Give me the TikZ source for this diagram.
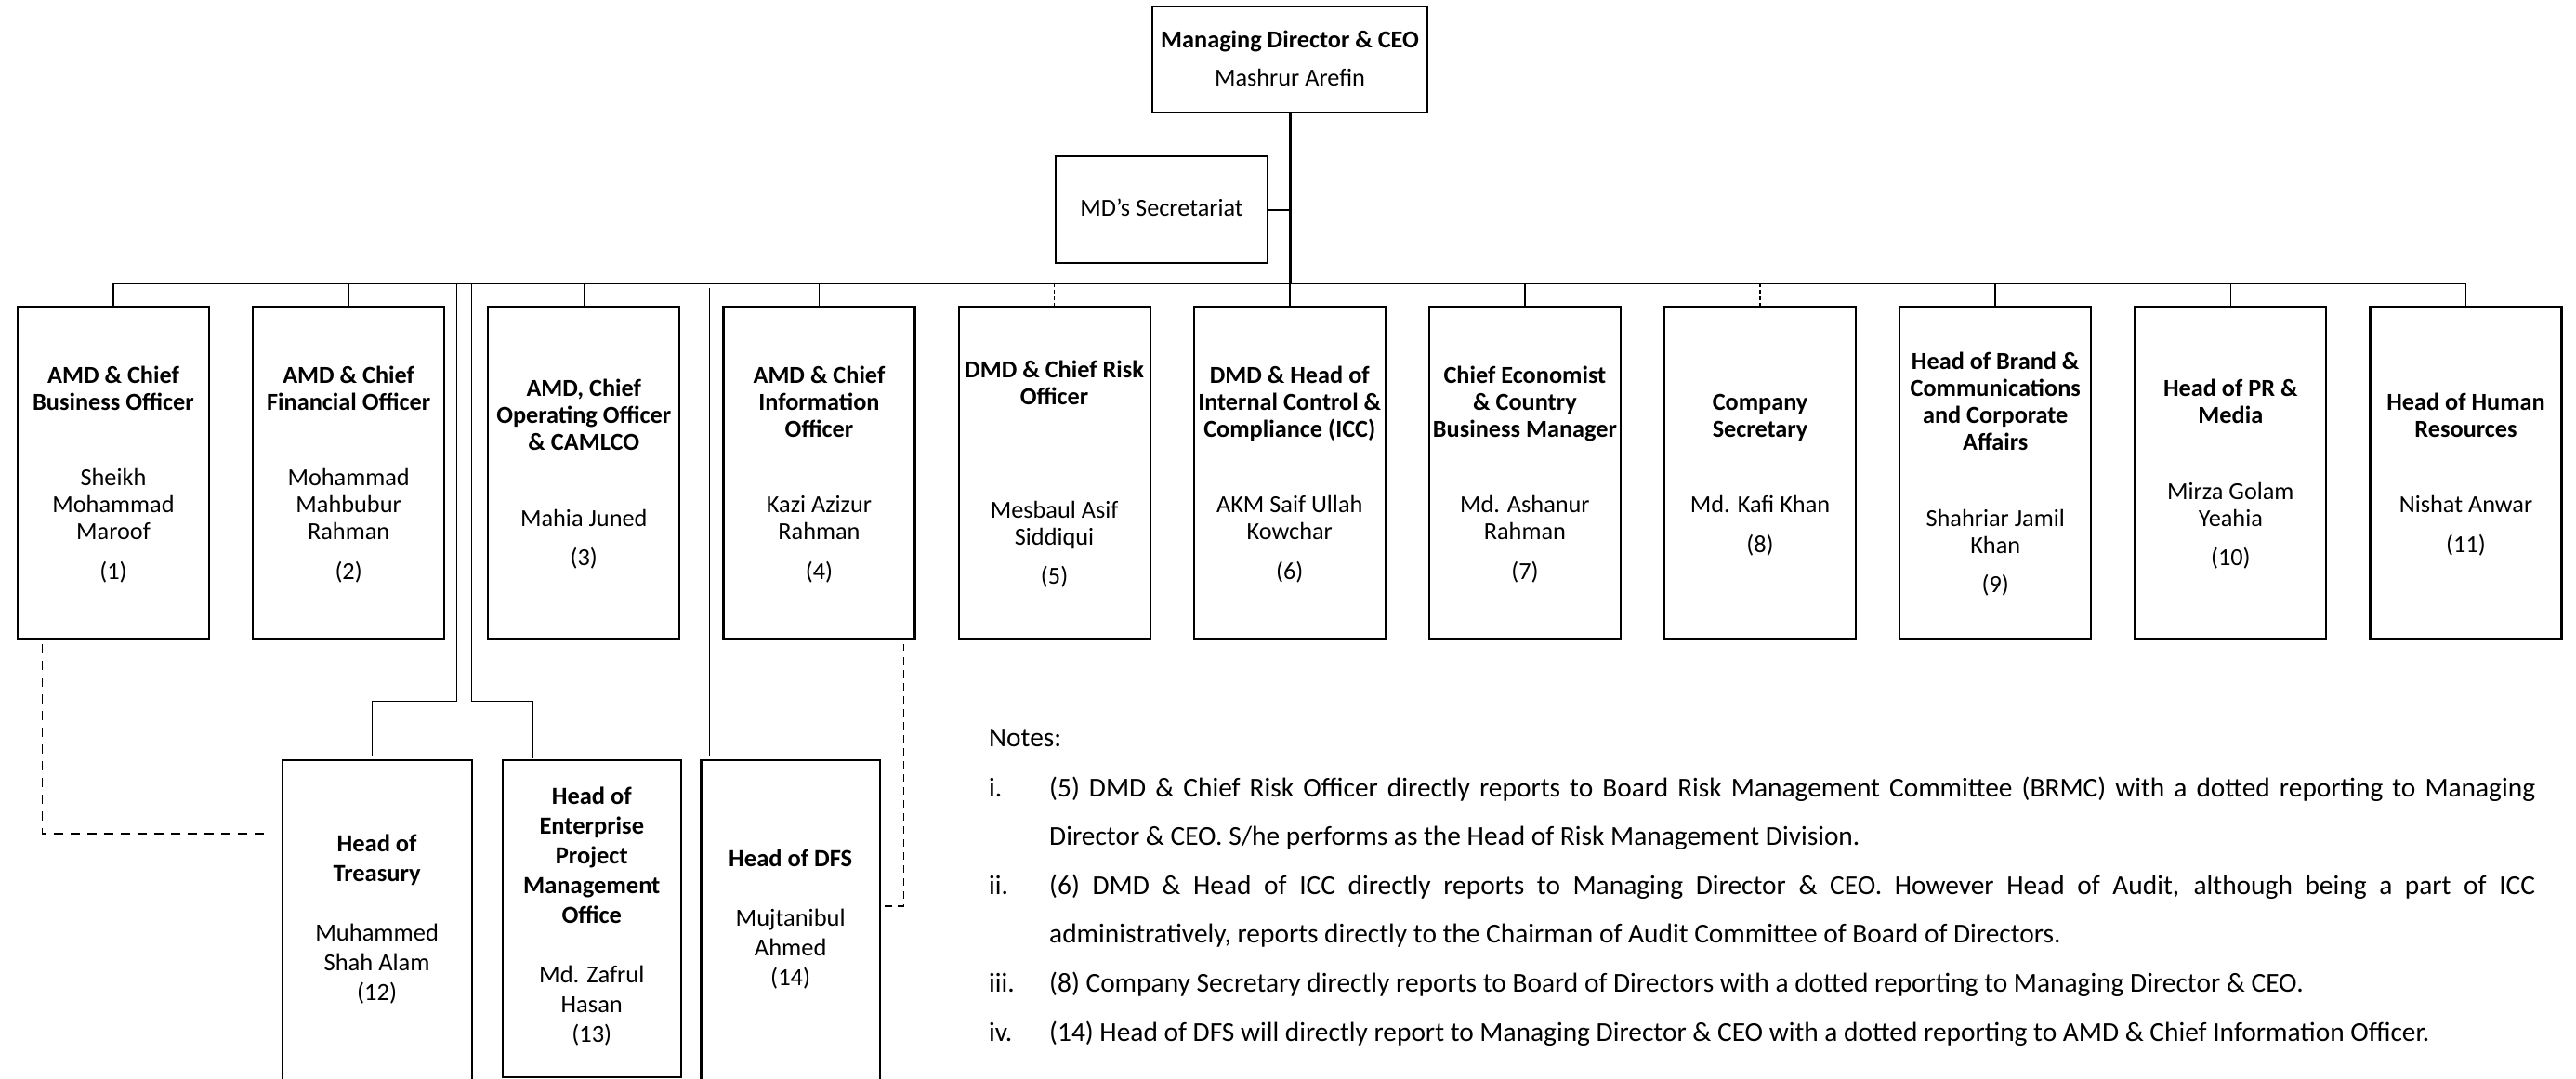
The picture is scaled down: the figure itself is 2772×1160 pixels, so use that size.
\documentclass[tikz,border=0pt]{standalone}
\usepackage{fontspec}
\setmainfont{Carlito}
\usetikzlibrary{calc}
\begin{document}
\begin{tikzpicture}[x=1pt,y=-1pt,
  box/.style={draw,line width=2.2pt,inner sep=0pt},
  lbl/.style={align=center,inner sep=0pt,font=\fontsize{26.3}{29}\selectfont},
  sublbl/.style={align=center,inner sep=0pt,font=\fontsize{26.5}{32}\selectfont},
  note/.style={anchor=base west,inner sep=0pt,font=\fontsize{29.4}{35}\selectfont},
  drop/.style={line width=1.6pt},
  busln/.style={line width=2.5pt},
  trunkln/.style={line width=3pt},
  thinln/.style={line width=1pt},
  dsh/.style={line width=1.8pt,dash pattern=on 10pt off 8pt},
  dshb/.style={line width=1.6pt,dash pattern=on 8pt off 6pt},
  dstub/.style={line width=1.6pt,dash pattern=on 4pt off 3pt}
]
\useasboundingbox (0,0) rectangle (2772,1160);
\clip (0,0) rectangle (2772,1160);

% top
\node[box,line width=2pt,minimum width=296pt,minimum height=114pt] (md) at (1388,63.7) {};
\node[lbl] (mdt) at ($(md.center)+(0,2.5)$) {\strut\textbf{Managing Director \& CEO}\\[12pt]\strut Mashrur Arefin};
\node[box,line width=2pt,minimum width=228pt,minimum height=115pt] (sec) at (1250,225.5) {};
\node[lbl] (sect) at ($(sec.center)+(0,1)$) {\strut MD’s Secretariat};

% first row boxes
\foreach \i in {1,...,11}
  \node[box,minimum width=206pt,minimum height=358pt] (b\i) at ({122+253.15*(\i-1)},509) {};

\node[lbl] (b1t) at ($(b1.center)+(0,2.7)$) {\strut\textbf{AMD \& Chief}\\\strut\textbf{Business Officer}\\[52.5pt]\strut Sheikh\\\strut Mohammad\\\strut Maroof\\[13.5pt]\strut (1)};
\node[lbl] (b2t) at ($(b2.center)+(0,2.7)$) {\strut\textbf{AMD \& Chief}\\\strut\textbf{Financial Officer}\\[52.5pt]\strut Mohammad\\\strut Mahbubur\\\strut Rahman\\[13.5pt]\strut (2)};
\node[lbl] (b3t) at ($(b3.center)+(0,2.7)$) {\strut\textbf{AMD, Chief}\\\strut\textbf{Operating Officer}\\\strut\textbf{\& CAMLCO}\\[52.5pt]\strut Mahia Juned\\[13.5pt]\strut (3)};
\node[lbl] (b4t) at ($(b4.center)+(0,2.7)$) {\strut\textbf{AMD \& Chief}\\\strut\textbf{Information}\\\strut\textbf{Officer}\\[52.5pt]\strut Kazi Azizur\\\strut Rahman\\[13.5pt]\strut (4)};
\node[lbl] (b5t) at ($(b5.center)+(0,2.7)$) {\strut\textbf{DMD \& Chief Risk}\\\strut\textbf{Officer}\\[93pt]\strut Mesbaul Asif\\\strut Siddiqui\\[13.5pt]\strut (5)};
\node[lbl] (b6t) at ($(b6.center)+(0,2.7)$) {\strut\textbf{DMD \& Head of}\\\strut\textbf{Internal Control \&}\\\strut\textbf{Compliance (ICC)}\\[52.5pt]\strut AKM Saif Ullah\\\strut Kowchar\\[13.5pt]\strut (6)};
\node[lbl] (b7t) at ($(b7.center)+(0,2.7)$) {\strut\textbf{Chief Economist}\\\strut\textbf{\& Country}\\\strut\textbf{Business Manager}\\[52.5pt]\strut Md. Ashanur\\\strut Rahman\\[13.5pt]\strut (7)};
\node[lbl] (b8t) at ($(b8.center)+(0,2.7)$) {\strut\textbf{Company}\\\strut\textbf{Secretary}\\[52.5pt]\strut Md. Kafi Khan\\[13.5pt]\strut (8)};
\node[lbl] (b9t) at ($(b9.center)+(0,2.7)$) {\strut\textbf{Head of Brand \&}\\\strut\textbf{Communications}\\\strut\textbf{and Corporate}\\\strut\textbf{Affairs}\\[52.5pt]\strut Shahriar Jamil\\\strut Khan\\[13.5pt]\strut (9)};
\node[lbl] (b10t) at ($(b10.center)+(0,2.7)$) {\strut\textbf{Head of PR \&}\\\strut\textbf{Media}\\[52.5pt]\strut Mirza Golam\\\strut Yeahia\\[13.5pt]\strut (10)};
\node[lbl] (b11t) at ($(b11.center)+(0,2.7)$) {\strut\textbf{Head of Human}\\\strut\textbf{Resources}\\[52.5pt]\strut Nishat Anwar\\[13.5pt]\strut (11)};

% bus and drops
\coordinate (bus) at (1388,305);
\draw[busln] (b1.north |- bus) -- (b11.north |- bus);
\draw[trunkln] (md.south) -- (bus);
\draw[line width=2pt] (sec.east) -- (sec.east -| md.south);
\foreach \i in {1,2,3,4,6,7,9,10,11}
  \draw[drop] (b\i.north |- bus) -- (b\i.north);
\foreach \i in {5,8}
  \draw[dstub] (b\i.north |- bus) -- (b\i.north);

% second row boxes
\node[box,minimum width=204pt,minimum height=360pt,anchor=north] (tr) at (405.6,816.7) {};
\node[box,minimum width=192pt,minimum height=341.3pt,anchor=north] (ep) at (636.8,816.7) {};
\node[box,minimum width=192.5pt,minimum height=360pt,anchor=north] (df) at (850.7,816.7) {};

\node[sublbl] (trt) at (405.6,989.8) {\strut\textbf{Head of}\\\strut\textbf{Treasury}\\[32pt]\strut Muhammed\\\strut Shah Alam\\\strut (12)};
\node[sublbl] (ept) at (636.8,987.3) {\strut\textbf{Head of}\\\strut\textbf{Enterprise}\\\strut\textbf{Project}\\\strut\textbf{Management}\\\strut\textbf{Office}\\[32pt]\strut Md. Zafrul\\\strut Hasan\\\strut (13)};
\node[sublbl] (dft) at (850.7,989.8) {\strut\textbf{Head of DFS}\\[32pt]\strut Mujtanibul\\\strut Ahmed\\\strut (14)};

% thin connectors
\coordinate (tA) at (491.7,306);
\coordinate (tB) at (507.3,306);
\coordinate (tC) at (763.3,310);
\draw[thinln] (tA) -- ++(0,448) -| ($(tr.north)+(-5,-4)$);
\draw[thinln] (tB) -- ++(0,448) -| ($(ep.north)+(-63,-1)$);
\draw[thinln] (tC) -- ($(tC |- df.north)+(0,-4)$);

% dashed connectors
\coordinate (c1) at (290,897);
\coordinate (c2) at (950,975);
\draw[dsh] ($(b1.south west)+(27.5,4)$) |- (c1);
\draw[dshb] ($(b4.south east)+(-13,4)$) |- (c2);

% notes
\node[note] (n0) at (1064,803) {Notes:};
\node[note] (n1l) at (1064,857) {i.};
\node[note] (n1a) at (1129,857) {\makebox[1599pt][s]{(5) DMD \& Chief Risk Officer directly reports to Board Risk Management Committee (BRMC) with a dotted reporting to Managing}};
\node[note] (n1b) at (1129,909.6) {Director \& CEO. S/he performs as the Head of Risk Management Division.};
\node[note] (n2l) at (1064,962.2) {ii.};
\node[note] (n2a) at (1129,962.2) {\makebox[1599pt][s]{(6) DMD \& Head of ICC directly reports to Managing Director \& CEO. However Head of Audit, although being a part of ICC}};
\node[note] (n2b) at (1129,1014.8) {administratively, reports directly to the Chairman of Audit Committee of Board of Directors.};
\node[note] (n3l) at (1064,1067.4) {iii.};
\node[note] (n3a) at (1129,1067.4) {(8) Company Secretary directly reports to Board of Directors with a dotted reporting to Managing Director \& CEO.};
\node[note] (n4l) at (1064,1120) {iv.};
\node[note] (n4a) at (1129,1120) {(14) Head of DFS will directly report to Managing Director \& CEO with a dotted reporting to AMD \& Chief Information Officer.};
\end{tikzpicture}
\end{document}
